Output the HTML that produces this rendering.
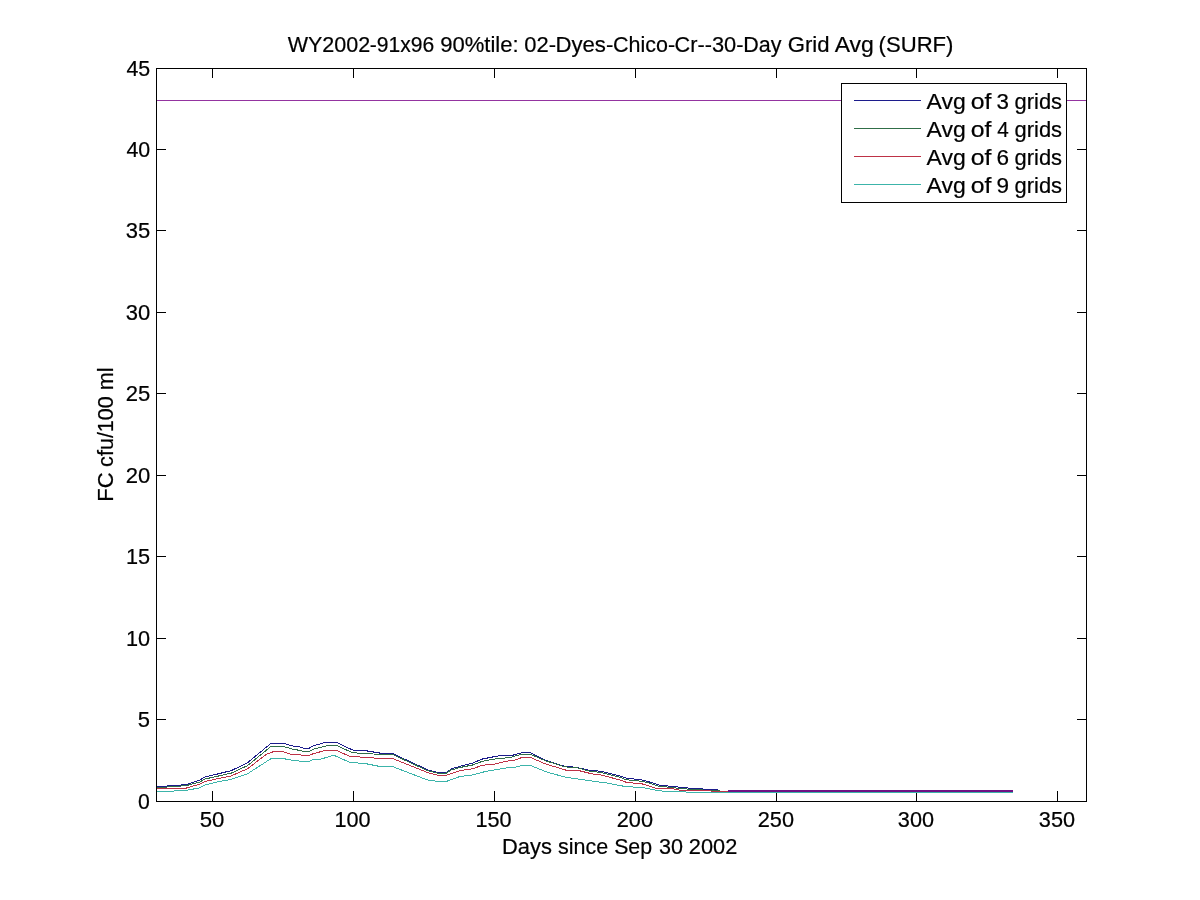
<!DOCTYPE html>
<html><head><meta charset="utf-8"><title>chart</title>
<style>
html,body{margin:0;padding:0;background:#fff;}
body{width:1200px;height:900px;overflow:hidden;font-family:"Liberation Sans",sans-serif;}
svg{display:block;position:absolute;left:0;top:0;}
text{-webkit-font-smoothing:antialiased;}
svg{will-change:transform;opacity:0.9999;}
text{font-family:"Liberation Sans",sans-serif;fill:#000;stroke:#000;stroke-width:0.22px;stroke-linejoin:round;}
.ax{stroke:#000;stroke-width:1;fill:none;shape-rendering:crispEdges;}
.ln{stroke-width:1;fill:none;shape-rendering:crispEdges;stroke-linejoin:round;}
</style></head><body>
<svg width="1200" height="900" viewBox="0 0 1200 900">
<rect x="0" y="0" width="1200" height="900" fill="#ffffff"/>
<line class="ax" x1="212.5" y1="801.5" x2="212.5" y2="791.0"/><line class="ax" x1="212.5" y1="68.5" x2="212.5" y2="78.0"/>
<line class="ax" x1="353.5" y1="801.5" x2="353.5" y2="791.0"/><line class="ax" x1="353.5" y1="68.5" x2="353.5" y2="78.0"/>
<line class="ax" x1="494.5" y1="801.5" x2="494.5" y2="791.0"/><line class="ax" x1="494.5" y1="68.5" x2="494.5" y2="78.0"/>
<line class="ax" x1="635.5" y1="801.5" x2="635.5" y2="791.0"/><line class="ax" x1="635.5" y1="68.5" x2="635.5" y2="78.0"/>
<line class="ax" x1="776.5" y1="801.5" x2="776.5" y2="791.0"/><line class="ax" x1="776.5" y1="68.5" x2="776.5" y2="78.0"/>
<line class="ax" x1="916.5" y1="801.5" x2="916.5" y2="791.0"/><line class="ax" x1="916.5" y1="68.5" x2="916.5" y2="78.0"/>
<line class="ax" x1="1057.5" y1="801.5" x2="1057.5" y2="791.0"/><line class="ax" x1="1057.5" y1="68.5" x2="1057.5" y2="78.0"/>
<line class="ax" x1="156.5" y1="719.5" x2="166.0" y2="719.5"/><line class="ax" x1="1086.5" y1="719.5" x2="1077.0" y2="719.5"/>
<line class="ax" x1="156.5" y1="638.5" x2="166.0" y2="638.5"/><line class="ax" x1="1086.5" y1="638.5" x2="1077.0" y2="638.5"/>
<line class="ax" x1="156.5" y1="556.5" x2="166.0" y2="556.5"/><line class="ax" x1="1086.5" y1="556.5" x2="1077.0" y2="556.5"/>
<line class="ax" x1="156.5" y1="475.5" x2="166.0" y2="475.5"/><line class="ax" x1="1086.5" y1="475.5" x2="1077.0" y2="475.5"/>
<line class="ax" x1="156.5" y1="393.5" x2="166.0" y2="393.5"/><line class="ax" x1="1086.5" y1="393.5" x2="1077.0" y2="393.5"/>
<line class="ax" x1="156.5" y1="312.5" x2="166.0" y2="312.5"/><line class="ax" x1="1086.5" y1="312.5" x2="1077.0" y2="312.5"/>
<line class="ax" x1="156.5" y1="230.5" x2="166.0" y2="230.5"/><line class="ax" x1="1086.5" y1="230.5" x2="1077.0" y2="230.5"/>
<line class="ax" x1="156.5" y1="149.5" x2="166.0" y2="149.5"/><line class="ax" x1="1086.5" y1="149.5" x2="1077.0" y2="149.5"/>
<line class="ln" x1="156.5" y1="100.5" x2="1086.5" y2="100.5" stroke="#9434a0"/>
<polyline class="ln" stroke="#1c1c8c" points="156.5,786.9 168.75,785.9 186.25,784.6 200,780 205,776.9 217.5,774 231.25,770.6 247.5,762.75 271.25,743.1 282.5,743.1 293.75,746.25 297.5,746.25 303.75,748.4 308.75,748.4 313.75,745.6 326.25,742.25 336.25,742.25 352.5,750 365,750.6 380,753.1 392.5,753.5 427.5,769.75 437.5,772.5 446.25,772.5 451.25,769 460,766.25 472.5,763.1 482.5,759 495,756.5 503.75,755 510,756 522.5,752.5 530,752.5 545,760 565,766.5 576.25,767.25 588.75,770.25 601.25,771.25 620,776 626.25,778.1 643.75,780.25 660,785.25 682.5,787.5 695,788.75 718,789.5"/>
<polyline class="ln" stroke="#306e48" points="156.5,787.75 168.75,786.9 186.25,785.6 200,781.9 205,779 217.5,776.25 231.25,773.1 247.5,765.6 271.25,746.25 282.5,746.25 293.75,749.4 297.5,750 303.75,751.5 308.75,751.5 313.75,749 328.75,745.25 336.25,745.25 352.5,752.75 365,753.5 380,754.4 392.5,754.4 427.5,770.6 437.5,773.1 446.25,773.1 451.25,770 460,767.5 472.5,765 482.5,761.25 495,759 510,757.5 522.5,754 530,754 545,760.6 565,766.9 576.25,767.5 588.75,771 601.25,772.5 620,777.25 626.25,779.75 643.75,781.5 660,786.5 670,787.25 682.5,788.75 720,791"/>
<polyline class="ln" stroke="#be3246" points="156.5,789 168.75,788.4 186.25,788.1 200,784 205,781.5 217.5,778.75 231.25,775.9 247.5,768.75 266.25,754.4 273.75,751.5 282.5,751.5 291.25,754.4 297.5,754.4 303.75,755.6 308.75,755.6 313.75,753.5 326.25,750.25 336.25,750.25 350,756.5 365,757.25 380,758.5 392.5,758.5 427.5,772.5 437.5,775.25 446.25,775.25 460,770.6 472.5,768.75 482.5,765.25 495,764 505,761.5 515,760 522.5,757.25 530,757.25 545,763.75 566.25,770.25 577.5,770.25 592.5,774 601.25,775 620,780 626.25,782.25 642.5,784 657.5,788.75 672.5,788.75 682.5,790.6 728,791.25"/>
<polyline class="ln" stroke="#3cb4aa" points="156.5,791.25 168.75,791.25 186.25,790.4 200,787.75 205,785 217.5,781.9 231.25,779.4 247.5,773.75 271.25,758.5 282.5,758.5 293.75,760.4 302.5,761.5 308.75,761.5 313.75,759.4 320,759.4 333.75,755.25 350,762.5 365,763.5 380,766.5 392.5,766.5 427.5,780 435,781 447.5,781 460,776.5 472.5,775 486.25,771.25 505,768.1 515,767.25 522.5,765.25 530,765.25 548.75,772.75 566.25,777.25 588.75,780.6 607.5,783.1 625,786.5 643.75,787.75 657.5,790.6 667.5,791.5 682.5,791.5 688.75,792.5 1013,792.5"/>
<rect x="728" y="790" width="285" height="2" fill="#6e1284" shape-rendering="crispEdges"/>
<rect class="ax" x="156.5" y="68.5" width="930.0" height="733.0"/>
<rect x="841.5" y="83.5" width="225" height="119" fill="#fff" stroke="#000" stroke-width="1" shape-rendering="crispEdges"/>
<line class="ln" x1="854" y1="100.5" x2="921" y2="100.5" stroke="#1c1c8c"/>
<line class="ln" x1="854" y1="128.5" x2="921" y2="128.5" stroke="#306e48"/>
<line class="ln" x1="854" y1="156.5" x2="921" y2="156.5" stroke="#be3246"/>
<line class="ln" x1="854" y1="184.5" x2="921" y2="184.5" stroke="#3cb4aa"/>
<text x="199.66" y="827.00" font-size="22.7" textLength="24.67" lengthAdjust="spacingAndGlyphs">50</text>
<text x="334.46" y="827.00" font-size="22.7" textLength="36.14" lengthAdjust="spacingAndGlyphs">100</text>
<text x="475.46" y="827.00" font-size="22.7" textLength="36.14" lengthAdjust="spacingAndGlyphs">150</text>
<text x="616.78" y="827.00" font-size="22.7" textLength="36.28" lengthAdjust="spacingAndGlyphs">200</text>
<text x="757.78" y="827.00" font-size="22.7" textLength="36.28" lengthAdjust="spacingAndGlyphs">250</text>
<text x="897.84" y="827.00" font-size="22.7" textLength="36.21" lengthAdjust="spacingAndGlyphs">300</text>
<text x="1038.84" y="827.00" font-size="22.7" textLength="36.21" lengthAdjust="spacingAndGlyphs">350</text>
<text x="137.99" y="809.00" font-size="22.7" textLength="11.80" lengthAdjust="spacingAndGlyphs">0</text>
<text x="137.68" y="727.00" font-size="22.7" textLength="12.22" lengthAdjust="spacingAndGlyphs">5</text>
<text x="126.06" y="646.00" font-size="22.7" textLength="24.15" lengthAdjust="spacingAndGlyphs">10</text>
<text x="126.06" y="564.00" font-size="22.7" textLength="24.15" lengthAdjust="spacingAndGlyphs">15</text>
<text x="125.72" y="483.00" font-size="22.7" textLength="24.51" lengthAdjust="spacingAndGlyphs">20</text>
<text x="125.72" y="401.00" font-size="22.7" textLength="24.52" lengthAdjust="spacingAndGlyphs">25</text>
<text x="125.78" y="320.00" font-size="22.7" textLength="24.45" lengthAdjust="spacingAndGlyphs">30</text>
<text x="125.78" y="238.00" font-size="22.7" textLength="24.45" lengthAdjust="spacingAndGlyphs">35</text>
<text x="126.39" y="157.00" font-size="22.7" textLength="23.80" lengthAdjust="spacingAndGlyphs">40</text>
<text x="126.39" y="76.00" font-size="22.7" textLength="23.80" lengthAdjust="spacingAndGlyphs">45</text>
<text x="287.70" y="52.00" font-size="22.7" textLength="82.57" lengthAdjust="spacingAndGlyphs">WY2002</text>
<text x="369.74" y="52.00" font-size="22.7" textLength="64.43" lengthAdjust="spacingAndGlyphs">-91x96</text>
<text x="440.14" y="52.00" font-size="22.7" textLength="78.44" lengthAdjust="spacingAndGlyphs">90%tile:</text>
<text x="524.25" y="52.00" font-size="22.7" textLength="31.70" lengthAdjust="spacingAndGlyphs">02-</text>
<text x="555.49" y="52.00" font-size="22.7" textLength="57.84" lengthAdjust="spacingAndGlyphs">Dyes-</text>
<text x="613.02" y="52.00" font-size="22.7" textLength="62.08" lengthAdjust="spacingAndGlyphs">Chico-</text>
<text x="674.61" y="52.00" font-size="22.7" textLength="37.27" lengthAdjust="spacingAndGlyphs">Cr--</text>
<text x="711.89" y="52.00" font-size="22.7" textLength="31.56" lengthAdjust="spacingAndGlyphs">30-</text>
<text x="743.35" y="52.00" font-size="22.7" textLength="38.22" lengthAdjust="spacingAndGlyphs">Day</text>
<text x="787.78" y="52.00" font-size="22.7" textLength="41.78" lengthAdjust="spacingAndGlyphs">Grid</text>
<text x="834.67" y="52.00" font-size="22.7" textLength="39.18" lengthAdjust="spacingAndGlyphs">Avg</text>
<text x="878.57" y="52.00" font-size="22.7" textLength="74.89" lengthAdjust="spacingAndGlyphs">(SURF)</text>
<text x="502.02" y="854.00" font-size="22.7" textLength="49.87" lengthAdjust="spacingAndGlyphs">Days</text>
<text x="558.00" y="854.00" font-size="22.7" textLength="50.17" lengthAdjust="spacingAndGlyphs">since</text>
<text x="614.16" y="854.00" font-size="22.7" textLength="37.93" lengthAdjust="spacingAndGlyphs">Sep</text>
<text x="658.90" y="854.00" font-size="22.7" textLength="24.00" lengthAdjust="spacingAndGlyphs">30</text>
<text x="688.83" y="854.00" font-size="22.7" textLength="48.41" lengthAdjust="spacingAndGlyphs">2002</text>
<text x="926.57" y="109.00" font-size="22.7" textLength="39.18" lengthAdjust="spacingAndGlyphs">Avg</text>
<text x="970.68" y="109.00" font-size="22.7" textLength="20.66" lengthAdjust="spacingAndGlyphs">of</text>
<text x="996.61" y="109.00" font-size="22.7" textLength="12.43" lengthAdjust="spacingAndGlyphs">3</text>
<text x="1014.52" y="109.00" font-size="22.7" textLength="47.53" lengthAdjust="spacingAndGlyphs">grids</text>
<text x="926.57" y="137.00" font-size="22.7" textLength="39.18" lengthAdjust="spacingAndGlyphs">Avg</text>
<text x="970.68" y="137.00" font-size="22.7" textLength="20.66" lengthAdjust="spacingAndGlyphs">of</text>
<text x="997.26" y="137.00" font-size="22.7" textLength="11.49" lengthAdjust="spacingAndGlyphs">4</text>
<text x="1014.52" y="137.00" font-size="22.7" textLength="47.53" lengthAdjust="spacingAndGlyphs">grids</text>
<text x="926.57" y="165.00" font-size="22.7" textLength="39.18" lengthAdjust="spacingAndGlyphs">Avg</text>
<text x="970.68" y="165.00" font-size="22.7" textLength="20.66" lengthAdjust="spacingAndGlyphs">of</text>
<text x="996.51" y="165.00" font-size="22.7" textLength="12.55" lengthAdjust="spacingAndGlyphs">6</text>
<text x="1014.52" y="165.00" font-size="22.7" textLength="47.53" lengthAdjust="spacingAndGlyphs">grids</text>
<text x="926.57" y="193.00" font-size="22.7" textLength="39.18" lengthAdjust="spacingAndGlyphs">Avg</text>
<text x="970.68" y="193.00" font-size="22.7" textLength="20.66" lengthAdjust="spacingAndGlyphs">of</text>
<text x="996.57" y="193.00" font-size="22.7" textLength="12.54" lengthAdjust="spacingAndGlyphs">9</text>
<text x="1014.52" y="193.00" font-size="22.7" textLength="47.53" lengthAdjust="spacingAndGlyphs">grids</text>
<g transform="translate(113,499.8) rotate(-90)">
<text x="-2.00" y="0.00" font-size="22.7" textLength="29.37" lengthAdjust="spacingAndGlyphs">FC</text>
<text x="32.93" y="0.00" font-size="22.7" textLength="70.71" lengthAdjust="spacingAndGlyphs">cfu/100</text>
<text x="109.55" y="0.00" font-size="22.7" textLength="22.77" lengthAdjust="spacingAndGlyphs">ml</text>
</g>
</svg></body></html>
